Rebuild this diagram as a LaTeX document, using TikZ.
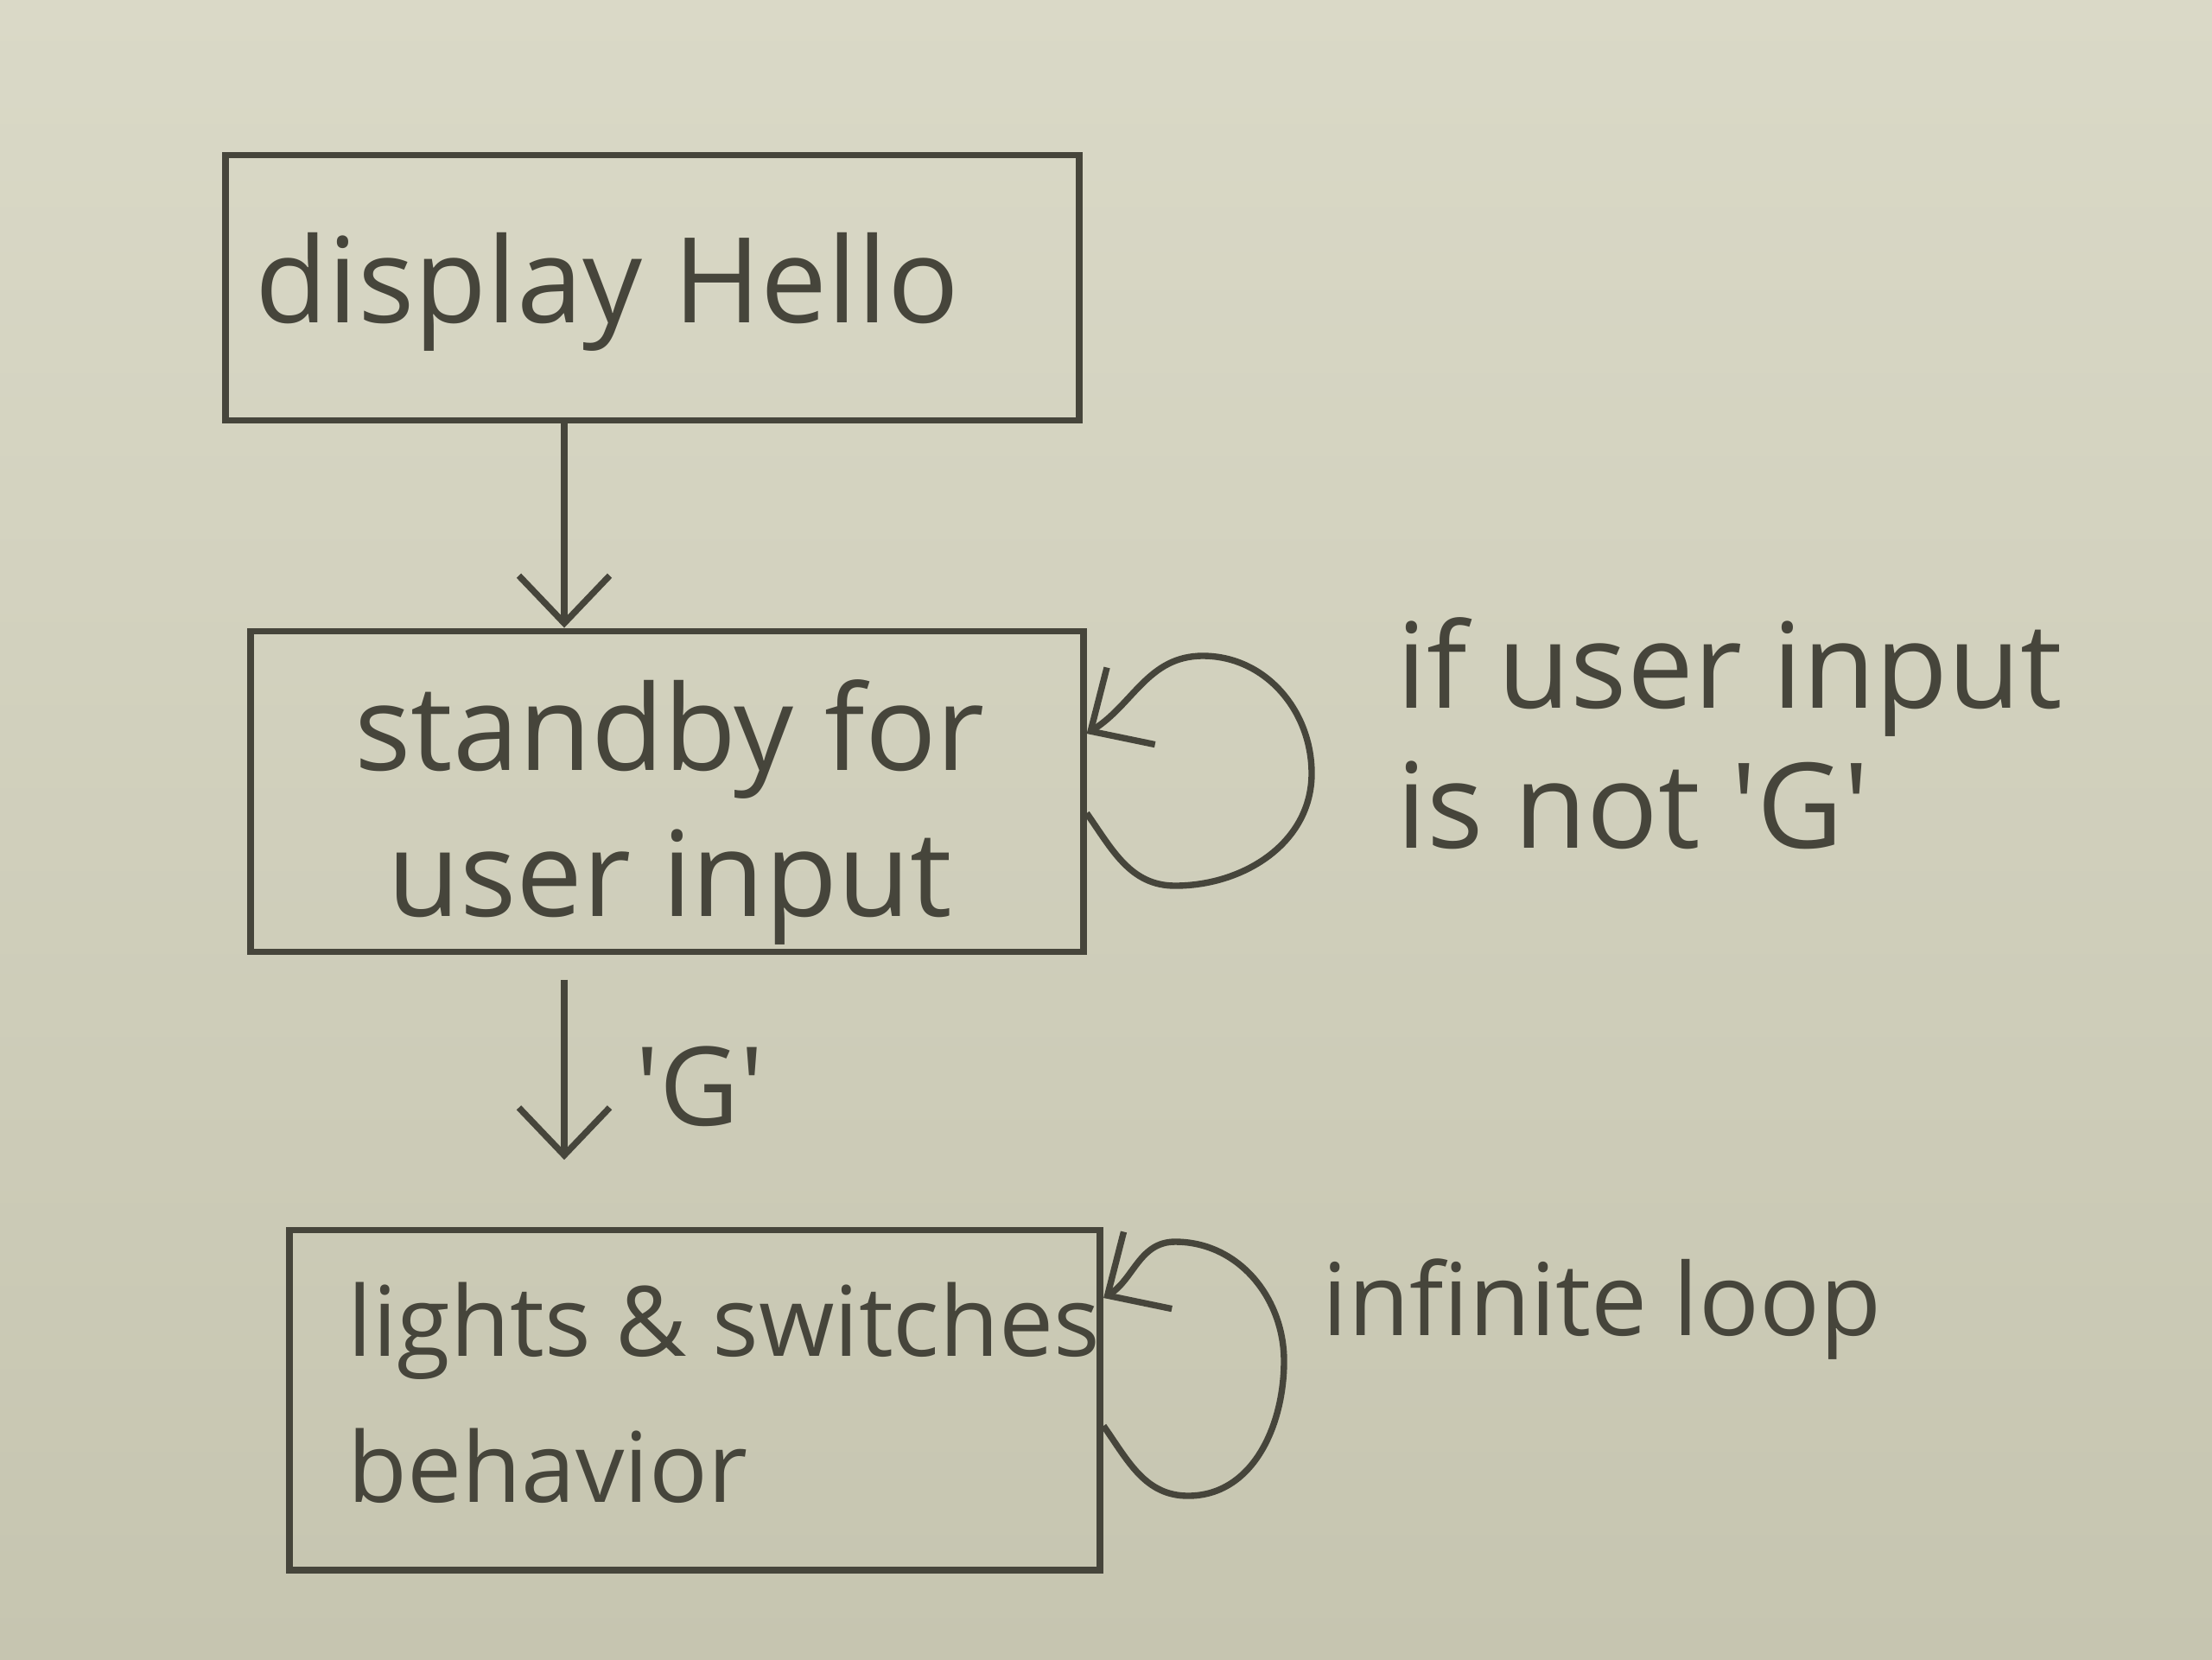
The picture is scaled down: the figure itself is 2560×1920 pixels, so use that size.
\documentclass[tikz,border=0pt]{standalone}
\usepackage{fontspec}
\setmainfont{Open Sans}
\usetikzlibrary{arrows.meta,calc}
\definecolor{papertop}{HTML}{DAD9C7}
\definecolor{paperbot}{HTML}{C6C5B0}
\definecolor{pencil}{HTML}{46453B}
\tikzset{
  stepbox/.style={draw=pencil, line width=2.2pt, rectangle, inner sep=0pt},
  arr/.style={draw=pencil, line width=2.1pt, -{Straight Barb[length=0.55cm,width=1.05cm,line width=2.1pt]}},
  lbl/.style={text=pencil, inner sep=0pt},
}
\begin{document}
\begin{tikzpicture}[x=0.01cm,y=0.01cm]
\useasboundingbox (0,0) rectangle (2560,-1920);
\shade[top color=papertop,bottom color=paperbot] (0,0) rectangle (2560,-1920);

% boxes
\node[stepbox, minimum width=9.88cm, minimum height=3.07cm] (hello) at (755,-333) {};
\node[stepbox, minimum width=9.63cm, minimum height=3.71cm] (standby) at (772,-916) {};
\node[stepbox, minimum width=9.38cm, minimum height=3.93cm] (lights) at (804,-1620) {};

% box texts
\node[lbl, anchor=west, font=\fontsize{39}{46}\selectfont] (hellotxt) at (295,-338) {display Hello};
\node[lbl, align=center, font=\fontsize{39}{48}\selectfont] (standbytxt) at (775,-940) {standby for\\user input};
\node[lbl, anchor=west, align=left, font=\fontsize{32}{48}\selectfont] (lightstxt) at (402,-1612) {lights \& switches\\behavior};

% straight arrows
\coordinate (ax) at (653,0);
\draw[arr] (hello.south -| ax) -- (standby.north -| ax);
\draw[arr, shorten <=8pt, shorten >=22pt] (standby.south -| ax) -- (lights.north -| ax);
\node[lbl, font=\fontsize{36}{44}\selectfont] (glabel) at (810,-1257) {\textquotesingle G\textquotesingle};

% self loop on standby
\coordinate (s1) at ($(standby.east)+(0,-25)$);
\coordinate (t1) at ($(standby.east)+(0,67)$);
\coordinate (b1) at (1360,-1025);
\coordinate (r1) at (1518,-895);
\coordinate (u1) at (1392,-759);
\draw[arr] (s1) to[out=-55,in=180] (b1) to[out=0,in=-90] (r1) to[out=90,in=0] (u1) to[out=180,in=32] (t1);
\node[lbl, anchor=west, align=left, font=\fontsize{39}{46}\selectfont] (notg) at (1616,-849) {if user input\\is not \textquotesingle G\textquotesingle};

% self loop on lights
\coordinate (s2) at ($(lights.east)+(0,-30)$);
\coordinate (t2) at ($(lights.east)+(0,118)$);
\coordinate (b2) at (1375,-1731);
\coordinate (r2) at (1486,-1575);
\coordinate (u2) at (1360,-1437);
\draw[arr] (s2) to[out=-55,in=180] (b2) to[out=0,in=-90] (r2) to[out=90,in=0] (u2) to[out=180,in=32] (t2);
\node[lbl, anchor=west, font=\fontsize{33}{40}\selectfont] (inf) at (1530,-1515) {infinite loop};
\end{tikzpicture}
\end{document}
